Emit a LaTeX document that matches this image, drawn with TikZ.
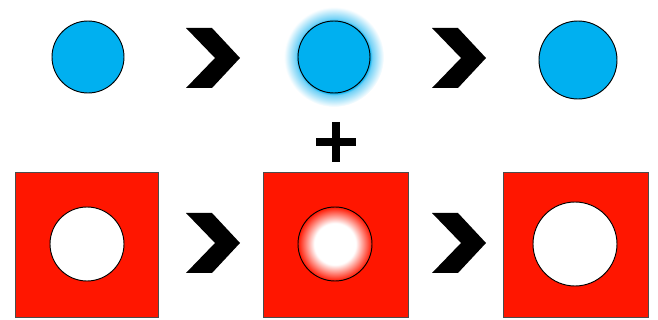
\documentclass[tikz,border=0pt]{standalone}
\usepackage{tikz}
\definecolor{ballblue}{RGB}{0,176,240}
\definecolor{haloblue}{RGB}{110,208,246}
\definecolor{boxred}{RGB}{255,22,0}
\pgfdeclareradialshading{ballglow}{\pgfpoint{0bp}{0bp}}{color(0bp)=(ballblue); color(18bp)=(ballblue); color(19bp)=(haloblue); color(25bp)=(white); color(50bp)=(white)}
\pgfdeclareradialshading{holeglow}{\pgfpoint{0bp}{0bp}}{color(0bp)=(white); color(14bp)=(white); color(25bp)=(boxred); color(50bp)=(boxred)}
\tikzset{
	ball/.style={fill=ballblue, draw=black, line width=0.8pt},
	redbox/.style={fill=boxred, draw=gray!60!black, line width=0.5pt},
	hole/.style={fill=white, draw=black, line width=0.8pt}
}

\begin{document}
\begin{tikzpicture}[x=0.03cm, y=-0.03cm]
			\useasboundingbox (0,0) rectangle (658,320);
			\coordinate (ballA) at (88,57);
			\coordinate (ballB) at (334,57);
			\coordinate (ballC) at (578,60);
			\coordinate (holeA) at (87,244);
			\coordinate (holeB) at (335,244);
			\coordinate (holeC) at (575,244);
			% top row
			\filldraw[ball] (ballA) circle (36);
			\shade[shading=ballglow] (ballB) circle (50);
			\filldraw[ball] (ballB) circle (36);
			\filldraw[ball] (ballC) circle (39);
			% bottom row
			\filldraw[redbox] (15,172) rectangle (158,317);
			\filldraw[redbox] (263,172) rectangle (408,317);
			\filldraw[redbox] (503,172) rectangle (648,317);
			\filldraw[hole] (holeA) circle (37);
			\shade[shading=holeglow] (holeB) circle (37);
			\draw[line width=0.8pt] (holeB) circle (37);
			\filldraw[hole] (holeC) circle (42);
			% plus
			\draw[line width=7.5pt] (316,142) -- (356,142) (336,122) -- (336,162);
			% chevrons
			\foreach \cx/\cy in {213/58, 459/58, 213/243, 459/243}
				\fill[shift={(\cx,\cy)}] (-27,-30) -- (-1,-30) -- (27,0) -- (-1,30) -- (-27,30) -- (2,0) -- cycle;
\end{tikzpicture}
\end{document}
